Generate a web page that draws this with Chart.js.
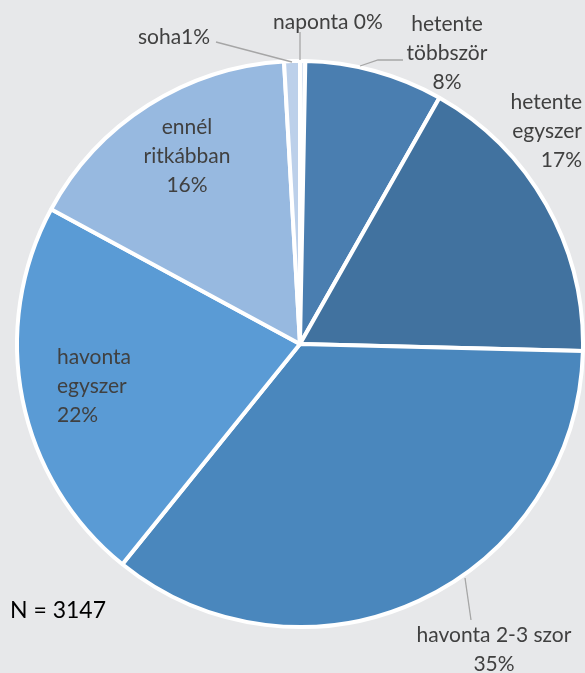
<!DOCTYPE html>
<html>
<head>
<meta charset="utf-8">
<script src="https://cdn.jsdelivr.net/npm/chart.js@4/dist/chart.umd.min.js"></script>
<style>
  html, body { margin: 0; padding: 0; background: #e7e8ea; }
  #wrap { width: 585px; height: 673px; position: relative; }
</style>
</head>
<body>
<div id="wrap"><canvas id="pie1"></canvas></div>
<script>
let labels1 = ['naponta', 'hetente többször', 'hetente egyszer', 'havonta 2-3 szor', 'havonta egyszer', 'ennél ritkábban', 'soha'];
let values1 = [0.3, 7.9, 17.2, 35.4, 22.1, 16.2, 0.9];
let shown1 = ['0%', '8%', '17%', '35%', '22%', '16%', '1%'];
let colors1 = ['#dbe5f3', '#4a7eb0', '#41729f', '#4a87bd', '#5a9bd5', '#97b9e0', '#bcd0ea'];
let sampleText = 'N = 3147';

// label text lines, anchor, alignment, optional leader line
let labelSpec = [
  { lines: ['naponta 0%'], x: 328, y: 22, align: 'center', leader: [[300, 60], [300, 32]] },
  { lines: ['hetente', 'többször', '8%'], x: 447, y: 24, align: 'center', leader: [[360, 66], [378, 60], [403, 60]] },
  { lines: ['hetente', 'egyszer', '17%'], x: 582, y: 102, align: 'right' },
  { lines: ['havonta 2-3 szor', '35%'], x: 494, y: 635, align: 'center', leader: [[465, 578], [471, 620]] },
  { lines: ['havonta', 'egyszer', '22%'], x: 57, y: 357, align: 'left' },
  { lines: ['ennél', 'ritkábban', '16%'], x: 187, y: 127, align: 'center' },
  { lines: ['soha1%'], x: 174, y: 37, align: 'center', leader: [[216, 42], [292, 62]] }
];

const pieLabels = {
  id: 'pieLabels',
  afterDraw(chart) {
    const ctx = chart.ctx;
    ctx.save();
    ctx.font = '21px Lato, "Open Sans", sans-serif';
    ctx.fillStyle = '#404040';
    ctx.textBaseline = 'middle';
    labelSpec.forEach(s => {
      ctx.textAlign = s.align;
      s.lines.forEach((t, i) => ctx.fillText(t, s.x, s.y + i * 29));
      if (s.leader) {
        ctx.strokeStyle = '#a6a6a6';
        ctx.lineWidth = 1.3;
        ctx.beginPath();
        s.leader.forEach((p, i) => i ? ctx.lineTo(p[0], p[1]) : ctx.moveTo(p[0], p[1]));
        ctx.stroke();
      }
    });
    ctx.textAlign = 'left';
    ctx.fillStyle = '#000';
    ctx.font = '23px Lato, "Open Sans", sans-serif';
    ctx.fillText(sampleText, 10, 611);
    ctx.restore();
  }
};

let mychart1 = document.getElementById('pie1').getContext('2d');
let chart1 = new Chart(mychart1, {
  type: 'pie',
  data: {
    labels: labels1,
    datasets: [{
      data: values1,
      backgroundColor: colors1,
      borderColor: '#ffffff',
      borderWidth: 4
    }]
  },
  options: {
    responsive: true,
    maintainAspectRatio: false,
    animation: false,
    layout: { padding: { left: 15, right: 0, top: 59, bottom: 44 } },
    plugins: {
      legend: { display: false },
      tooltip: { enabled: false }
    }
  },
  plugins: [pieLabels]
});
</script>
</body>
</html>
